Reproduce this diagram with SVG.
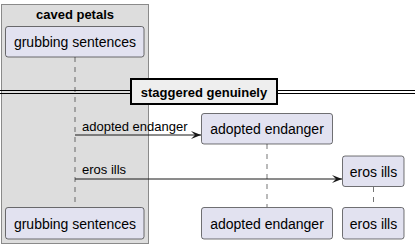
<svg xmlns="http://www.w3.org/2000/svg" width="415" height="249" viewBox="0 0 415 249">
  <defs>
    <style>
      .grp { fill: #DDDDDD; stroke: #8a8a8a; stroke-width: 1; }
      .part { fill: #E2E2F0; stroke: #181818; stroke-width: 0.6; }
      .life { stroke: #181818; stroke-width: 0.6; stroke-dasharray: 5,5; fill: none; }
      .msg { stroke: #181818; stroke-width: 1; fill: none; }
      .ptxt { font-family: "Liberation Sans", Arial, sans-serif; font-size: 14px; fill: #000; text-anchor: middle; }
      .mtxt { font-family: "Liberation Sans", Arial, sans-serif; font-size: 13px; fill: #000; }
      .btxt { font-family: "Liberation Sans", Arial, sans-serif; font-size: 13px; font-weight: bold; fill: #000; text-anchor: middle; }
    </style>
    <marker id="arrow" viewBox="0 0 10 8" refX="10" refY="4" markerWidth="10" markerHeight="8" markerUnits="userSpaceOnUse" orient="auto">
      <polygon points="0,0 10,4 0,8 4,4" fill="#181818"/>
    </marker>
  </defs>

  <!-- box grouping the first participant -->
  <g id="box-caved-petals">
    <rect class="grp" x="1.5" y="4.5" width="147" height="239"/>
    <text class="btxt" x="75" y="19">caved petals</text>
  </g>

  <!-- lifelines -->
  <g id="lifelines">
    <line class="life" x1="75" y1="57" x2="75" y2="207"/>
    <line class="life" x1="267" y1="144" x2="267" y2="207"/>
    <line class="life" x1="373.5" y1="187" x2="373.5" y2="207"/>
  </g>

  <!-- separator -->
  <g id="separator">
    <line x1="0" y1="90.5" x2="415" y2="90.5" stroke="#000" stroke-width="1"/>
    <line x1="0" y1="93.5" x2="415" y2="93.5" stroke="#000" stroke-width="1"/>
    <rect x="131" y="79" width="146" height="25" fill="#EEEEEE" stroke="#000" stroke-width="2"/>
    <text class="btxt" x="204" y="97">staggered genuinely</text>
  </g>

  <!-- messages -->
  <g id="connectors">
    <line class="msg" x1="75" y1="135" x2="201" y2="135" marker-end="url(#arrow)"/>
    <text class="mtxt" x="82" y="131">adopted endanger</text>
    <line class="msg" x1="75" y1="179" x2="342" y2="179" marker-end="url(#arrow)"/>
    <text class="mtxt" x="82" y="174">eros ills</text>
  </g>

  <!-- participants -->
  <g id="grubbing-sentences-top">
    <rect class="part" x="5.5" y="26.5" width="138.5" height="30.5" rx="2.5"/>
    <text class="ptxt" x="75" y="47">grubbing sentences</text>
  </g>
  <g id="adopted-endanger-top">
    <rect class="part" x="201.5" y="113.5" width="131" height="30.5" rx="2.5"/>
    <text class="ptxt" x="267" y="134">adopted endanger</text>
  </g>
  <g id="eros-ills-top">
    <rect class="part" x="342.5" y="156" width="61.5" height="30.5" rx="2.5"/>
    <text class="ptxt" x="373.5" y="176.5">eros ills</text>
  </g>
  <g id="grubbing-sentences-bottom">
    <rect class="part" x="5.5" y="207.5" width="138.5" height="31.5" rx="2.5"/>
    <text class="ptxt" x="75" y="228.5">grubbing sentences</text>
  </g>
  <g id="adopted-endanger-bottom">
    <rect class="part" x="201.5" y="207.5" width="131" height="31.5" rx="2.5"/>
    <text class="ptxt" x="267" y="228.5">adopted endanger</text>
  </g>
  <g id="eros-ills-bottom">
    <rect class="part" x="342.5" y="207.5" width="61.5" height="31.5" rx="2.5"/>
    <text class="ptxt" x="373.5" y="228.5">eros ills</text>
  </g>
</svg>
